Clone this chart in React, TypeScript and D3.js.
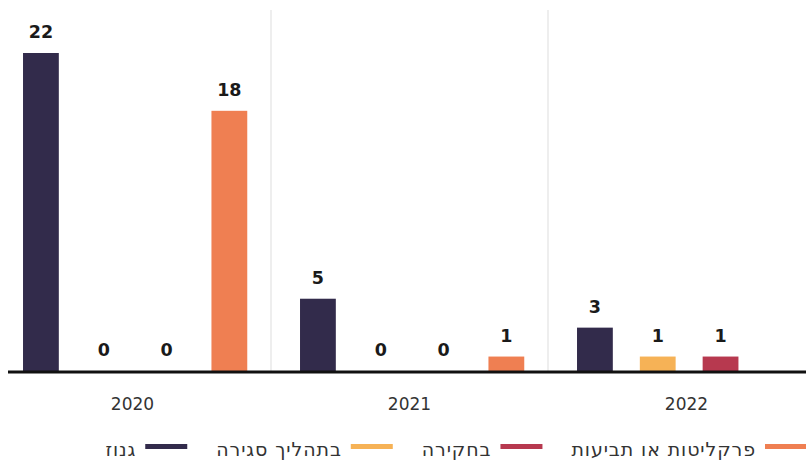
import React, { useEffect, useRef } from 'react';
import * as d3 from 'd3';

const years = ['2020', '2021', '2022'];
const seriesKeys = ['גנוז', 'בתהליך סגירה', 'בחקירה', 'פרקליטות או תביעות'];
const seriesColors = ['#322b4b', '#f6b256', '#b7394f', '#ef7f52'];
const archived = [22, 5, 3];
const closing = [0, 0, 1];
const investigation = [0, 0, 1];
const prosecution: (number | null)[] = [18, 1, null];
const seriesValues: (number | null)[][] = [archived, closing, investigation, prosecution];

const W = 806;
const H = 462;

export default function App() {
  const ref = useRef<SVGSVGElement | null>(null);

  useEffect(() => {
    const svg = d3.select(ref.current);
    svg.selectAll('*').remove();

    const baseY = 371;
    const x0 = d3.scaleBand<string>().domain(years).range([-6, 825]).padding(0);
    const x1 = d3
      .scaleBand<string>()
      .domain(seriesKeys)
      .range([0, x0.bandwidth()])
      .paddingInner(0.43)
      .paddingOuter(0.42)
      .align(0.55);
    const y = d3.scaleLinear().domain([0, 22]).range([baseY, 53]);

    // separators
    svg
      .append('g')
      .selectAll('line')
      .data(years.slice(1))
      .join('line')
      .attr('x1', (d) => x0(d)!)
      .attr('x2', (d) => x0(d)!)
      .attr('y1', 10)
      .attr('y2', baseY)
      .attr('stroke', '#e9e9e9')
      .attr('stroke-width', 1.5);

    const groups = svg
      .append('g')
      .selectAll('g')
      .data(years)
      .join('g')
      .attr('transform', (d) => `translate(${x0(d)},0)`);

    groups.each(function (year, yi) {
      const g = d3.select(this);
      const items = seriesKeys
        .map((k, si) => ({ k, si, v: seriesValues[si][yi] }))
        .filter((d) => d.v !== null) as { k: string; si: number; v: number }[];
      g.selectAll('rect')
        .data(items)
        .join('rect')
        .attr('x', (d) => x1(d.k)!)
        .attr('width', x1.bandwidth())
        .attr('y', (d) => y(d.v))
        .attr('height', (d) => baseY - y(d.v))
        .attr('fill', (d) => seriesColors[d.si]);
      g.selectAll('text')
        .data(items)
        .join('text')
        .attr('x', (d) => x1(d.k)! + x1.bandwidth() / 2)
        .attr('y', (d) => y(d.v) - 15)
        .attr('text-anchor', 'middle')
        .attr('font-family', 'DejaVu Sans')
        .attr('font-weight', 'bold')
        .attr('font-size', 17.5)
        .attr('fill', '#1a1a1a')
        .text((d) => String(d.v));
    });

    // axis line
    svg
      .append('line')
      .attr('x1', 8)
      .attr('x2', W)
      .attr('y1', baseY + 1)
      .attr('y2', baseY + 1)
      .attr('stroke', '#111')
      .attr('stroke-width', 3);

    // year labels
    svg
      .append('g')
      .selectAll('text')
      .data(years)
      .join('text')
      .attr('x', (d) => x0(d)! + x0.bandwidth() / 2)
      .attr('y', 410)
      .attr('text-anchor', 'middle')
      .attr('font-family', 'DejaVu Sans')
      .attr('font-size', 17)
      .attr('fill', '#333')
      .text((d) => d);

    // legend, laid out right to left
    const legend = svg.append('g');
    let cx = 807;
    const swW = 42;
    for (let i = seriesKeys.length - 1; i >= 0; i--) {
      legend
        .append('rect')
        .attr('x', cx - swW)
        .attr('y', 444)
        .attr('width', swW)
        .attr('height', 5)
        .attr('fill', seriesColors[i]);
      const t = legend
        .append('text')
        .attr('x', cx - swW - 9)
        .attr('y', 456)
        .attr('text-anchor', 'end')
        .attr('font-family', 'DejaVu Sans')
        .attr('font-size', 19)
        .attr('letter-spacing', 0.9)
        .attr('fill', '#333')
        .text(seriesKeys[i]);
      const w = (t.node() as SVGTextElement).getComputedTextLength();
      cx = cx - swW - 9 - w - 29;
    }
  }, []);

  return (
    <div style={{ position: 'absolute', left: 0, top: 0 }}>
      <svg ref={ref} width={W} height={H} style={{ display: 'block', background: '#fff' }} />
    </div>
  );
}
